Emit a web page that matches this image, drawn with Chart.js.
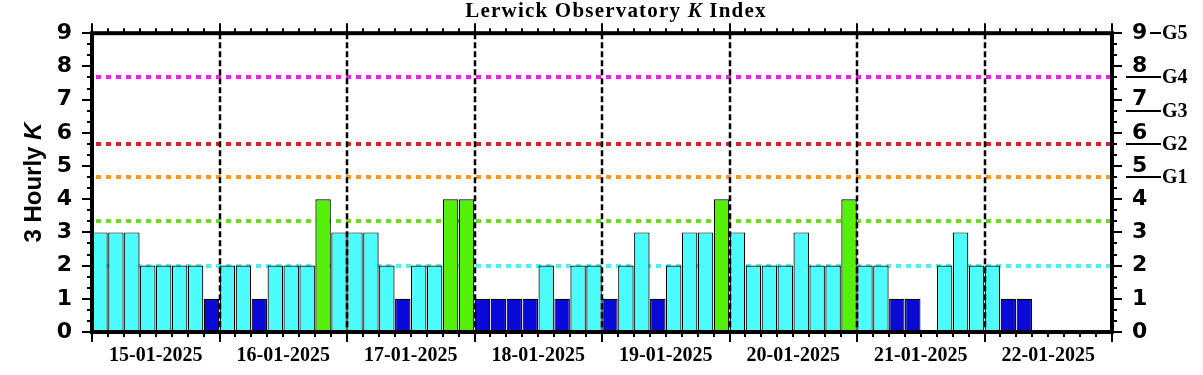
<!DOCTYPE html>
<html>
<head>
<meta charset="utf-8">
<script src="https://cdn.jsdelivr.net/npm/chart.js@4.4.0/dist/chart.umd.min.js"></script>
<style>
    html, body { margin: 0; padding: 0; background: #fff; }
    #wrap { width: 1203px; height: 375px; }
</style>
</head>
<body>
<div id="wrap"><canvas id="kChart" width="1203" height="375"></canvas></div>
<script>
// Lerwick Observatory K index - 8 days, 8 three-hour slots per day
const days = ['15-01-2025', '16-01-2025', '17-01-2025', '18-01-2025',
              '19-01-2025', '20-01-2025', '21-01-2025', '22-01-2025'];
const slotsPerDay = 8;

const kValues = [
    3, 3, 3, 2, 2, 2, 2, 1,
    2, 2, 1, 2, 2, 2, 4, 3,
    3, 3, 2, 1, 2, 2, 4, 4,
    1, 1, 1, 1, 2, 1, 2, 2,
    1, 2, 3, 1, 2, 3, 3, 4,
    3, 2, 2, 2, 3, 2, 2, 4,
    2, 2, 1, 1, null, 2, 3, 2,
    2, 1, 1, null, null, null, null, null
];

const kTicks = [0, 1, 2, 3, 4, 5, 6, 7, 8, 9];

// dotted reference levels
const levelValues = [2, 3.33, 4.67, 5.67, 7.67];
const levelColors = ['#55eeee', '#66dd22', '#ff9922', '#dd2222', '#ee22ee'];

// storm scale on the right axis
const stormLevels = [4.67, 5.67, 6.67, 7.67, 9];
const stormLabels = ['G1', 'G2', 'G3', 'G4', 'G5'];

function barColor(k) {
    if (k <= 1) return '#0a0ad8';
    if (k <= 3) return '#4dfcfc';
    return '#55f00a';
}

const points = kValues.map((k, i) => ({ x: i + 0.5, y: k }));

const SANS = '"Liberation Sans", Arial, sans-serif';
const SERIF = '"Liberation Serif", "Times New Roman", serif';

function drawParts(ctx, parts, cx, y) {
    let total = 0;
    parts.forEach(p => { ctx.font = p.font; p.w = ctx.measureText(p.text).width; total += p.w; });
    let x = cx - total / 2;
    parts.forEach(p => { ctx.font = p.font; ctx.fillText(p.text, x, y); x += p.w; });
}

const kDecor = {
    id: 'kDecor',
    beforeDatasetsDraw(chart) {
        const { ctx, chartArea: a, scales: { y } } = chart;
        ctx.save();
        ctx.lineWidth = 4;
        ctx.setLineDash([5, 5]);
        levelValues.forEach((v, i) => {
            const py = Math.round(y.getPixelForValue(v));
            ctx.strokeStyle = levelColors[i];
            ctx.beginPath();
            ctx.moveTo(a.left + 4, py);
            ctx.lineTo(a.right - 2, py);
            ctx.stroke();
        });
        ctx.restore();
    },
    afterDatasetsDraw(chart) {
        const { ctx, chartArea: a, scales: { x, y } } = chart;
        ctx.save();

        // day dividers
        ctx.strokeStyle = '#000';
        ctx.lineWidth = 2.5;
        ctx.setLineDash([6, 3]);
        for (let d = 1; d < days.length; d++) {
            const px = Math.round(x.getPixelForValue(d * slotsPerDay));
            ctx.beginPath();
            ctx.moveTo(px, a.top);
            ctx.lineTo(px, a.bottom);
            ctx.stroke();
        }
        ctx.setLineDash([]);

        // tick marks
        ctx.lineWidth = 2;
        const nSlots = days.length * slotsPerDay;
        for (let i = 0; i <= nSlots; i++) {
            const px = Math.round(x.getPixelForValue(i));
            const len = i % slotsPerDay === 0 ? 10 : 5;
            ctx.beginPath();
            ctx.moveTo(px, a.bottom); ctx.lineTo(px, a.bottom + len);
            ctx.moveTo(px, a.top); ctx.lineTo(px, a.top - len);
            ctx.stroke();
        }
        for (let j = 0; j <= 27; j++) {
            const py = Math.round(y.getPixelForValue(j / 3));
            const len = j % 3 === 0 ? 10 : 5;
            ctx.beginPath();
            ctx.moveTo(a.left, py); ctx.lineTo(a.left - len, py);
            ctx.moveTo(a.right, py); ctx.lineTo(a.right + len, py);
            ctx.stroke();
        }

        // frame
        ctx.lineWidth = 4;
        ctx.strokeRect(a.left, a.top, a.right - a.left, a.bottom - a.top);

        // storm labels on the right
        ctx.fillStyle = '#000';
        ctx.lineWidth = 2;
        ctx.textBaseline = 'middle';
        ctx.textAlign = 'left';
        ctx.font = 'bold 20px ' + SERIF;
        stormLevels.forEach((v, i) => {
            const py = Math.round(y.getPixelForValue(v));
            const x0 = v >= 9 ? a.right + 38 : a.right + 14;
            ctx.beginPath();
            ctx.moveTo(x0, py);
            ctx.lineTo(a.right + 49, py);
            ctx.stroke();
            ctx.fillText(stormLabels[i], a.right + 50, py + 1);
        });

        // title
        ctx.textBaseline = 'alphabetic';
        ctx.letterSpacing = '1.2px';
        drawParts(ctx, [
            { text: 'Lerwick Observatory ', font: 'bold 21px ' + SERIF },
            { text: 'K', font: 'italic bold 21px ' + SERIF },
            { text: ' Index', font: 'bold 21px ' + SERIF }
        ], 616, 17);
        ctx.letterSpacing = '0px';

        // y axis title
        ctx.translate(33, (a.top + a.bottom) / 2);
        ctx.rotate(-Math.PI / 2);
        ctx.textBaseline = 'middle';
        drawParts(ctx, [
            { text: '3 Hourly ', font: 'bold 24px ' + SANS },
            { text: 'K', font: 'italic bold 24px ' + SANS }
        ], 0, 1);

        ctx.restore();
    }
};

const yTickOpts = {
    stepSize: 1,
    color: '#000',
    padding: 20,
    font: { family: '"DejaVu Sans", sans-serif', size: 22, weight: 'bold' }
};

new Chart(document.getElementById('kChart'), {
    type: 'bar',
    data: {
        datasets: [{
            data: points,
            backgroundColor: points.map(p => barColor(p.y)),
            borderColor: '#000',
            borderWidth: 1.2,
            barPercentage: 0.97,
            categoryPercentage: 1
        }]
    },
    options: {
        responsive: false,
        animation: false,
        layout: { padding: { top: 32, left: 0, right: 0, bottom: 0 } },
        plugins: {
            legend: { display: false },
            title: { display: false },
            tooltip: { enabled: false }
        },
        scales: {
            x: {
                type: 'linear',
                min: 0,
                max: days.length * slotsPerDay,
                offset: false,
                grid: { display: false, drawTicks: false },
                border: { display: false },
                afterBuildTicks: s => {
                    s.ticks = days.map((d, i) => ({ value: i * slotsPerDay + slotsPerDay / 2 }));
                },
                afterFit: s => { s.height = 43; },
                ticks: {
                    autoSkip: false,
                    maxRotation: 0,
                    color: '#000',
                    padding: 12,
                    font: { family: SERIF, size: 20, weight: 'bold' },
                    callback: v => days[Math.floor(v / slotsPerDay)]
                }
            },
            y: {
                position: 'left',
                min: kTicks[0],
                max: kTicks[kTicks.length - 1],
                grid: { display: false, drawTicks: false },
                border: { display: false },
                afterFit: s => { s.width = 92; },
                ticks: yTickOpts
            },
            y2: {
                position: 'right',
                min: kTicks[0],
                max: kTicks[kTicks.length - 1],
                grid: { display: false, drawTicks: false },
                border: { display: false },
                afterFit: s => { s.width = 91; },
                ticks: yTickOpts
            }
        }
    },
    plugins: [kDecor]
});
</script>
</body>
</html>
